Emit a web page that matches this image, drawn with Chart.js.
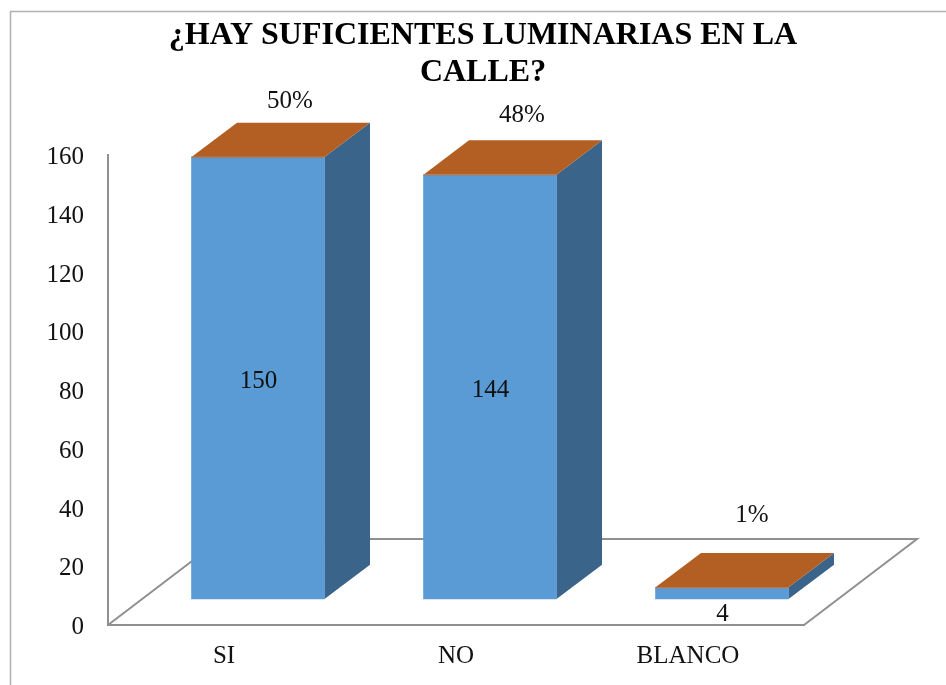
<!DOCTYPE html>
<html>
<head>
<meta charset="utf-8">
<style>html,body{margin:0;padding:0;background:#fff}canvas{display:block}</style>
<script src="https://cdn.jsdelivr.net/npm/chart.js@4"></script>
</head>
<body>
<canvas id="c" width="946" height="685"></canvas>
<script>
const titleLines = ['¿HAY SUFICIENTES LUMINARIAS EN LA', 'CALLE?'];
const categories = ['SI', 'NO', 'BLANCO'];
const counts = [150, 144, 4];
const percents = ['50%', '48%', '1%'];
const yTicks = [0, 20, 40, 60, 80, 100, 120, 140, 160];

const FONT = '"Liberation Serif", "Times New Roman", serif';
const AXIS = '#909090', FRONT = '#5B9BD5', SIDE = '#3A6489', TOP = '#B35E22', EDGE = '#CE702E';
const BAR_DEPTH = {x: 45.5, y: -34.3};
const FLOOR_DEPTH = {x: 113, y: -86};
const pctOffset = [{x: 32, y: -56}, {x: 32, y: -59}, {x: 30, y: -72}];

function poly(ctx, pts, fill) {
  ctx.beginPath();
  pts.forEach((p, i) => i ? ctx.lineTo(p[0], p[1]) : ctx.moveTo(p[0], p[1]));
  ctx.closePath();
  ctx.fillStyle = fill;
  ctx.fill();
}

const frame = {
  id: 'frame',
  beforeDraw(chart) {
    const c = chart.ctx;
    c.save();
    c.strokeStyle = '#B0B0B0';
    c.lineWidth = 1.5;
    c.beginPath();
    c.moveTo(10.5, 685);
    c.lineTo(10.5, 11.5);
    c.lineTo(946, 11.5);
    c.stroke();
    c.restore();
  }
};

const solid = {
  id: 'solid',
  beforeDatasetsDraw(chart) {
    const c = chart.ctx, a = chart.chartArea;
    c.save();
    c.strokeStyle = AXIS;
    c.lineWidth = 2;
    c.lineJoin = 'miter';
    c.beginPath();
    c.moveTo(a.left, a.bottom);
    c.lineTo(a.left + FLOOR_DEPTH.x, a.bottom + FLOOR_DEPTH.y);
    c.lineTo(a.right + FLOOR_DEPTH.x, a.bottom + FLOOR_DEPTH.y);
    c.lineTo(a.right, a.bottom);
    c.stroke();
    chart.getDatasetMeta(0).data.forEach(b => {
      const l = b.x - b.width / 2, r = b.x + b.width / 2;
      const dx = BAR_DEPTH.x, dy = BAR_DEPTH.y;
      poly(c, [[r, b.y], [r + dx, b.y + dy], [r + dx, b.base + dy], [r, b.base]], SIDE);
      poly(c, [[l, b.y], [l + dx, b.y + dy], [r + dx, b.y + dy], [r, b.y]], TOP);
    });
    c.restore();
  },
  afterDatasetsDraw(chart) {
    const c = chart.ctx;
    c.save();
    c.font = '25px ' + FONT;
    c.textAlign = 'center';
    c.textBaseline = 'middle';
    chart.getDatasetMeta(0).data.forEach((b, i) => {
      const l = b.x - b.width / 2, r = b.x + b.width / 2;
      c.strokeStyle = EDGE;
      c.lineWidth = 1;
      c.beginPath();
      c.moveTo(l, b.y + 0.5);
      c.lineTo(r, b.y + 0.5);
      c.stroke();
      const h = b.base - b.y;
      c.fillStyle = '#111';
      c.fillText(String(counts[i]), b.x + 0.5, h > 30 ? b.y + h / 2 + 3.5 : b.base + 15);
      c.fillText(percents[i], b.x + pctOffset[i].x, b.y + pctOffset[i].y);
    });
    c.restore();
  }
};

new Chart(document.getElementById('c'), {
  type: 'bar',
  data: {
    labels: categories,
    datasets: [{
      label: 'Respuestas',
      data: counts.map((v, i) => ({x: i, y: v})),
      xAxisID: 'xb',
      yAxisID: 'yb',
      backgroundColor: FRONT,
      borderWidth: 0,
      barThickness: 133
    }]
  },
  plugins: [frame, solid],
  options: {
    responsive: false,
    animation: false,
    layout: {padding: {left: 20, right: 0, top: 0, bottom: 0}},
    plugins: {
      legend: {display: false},
      tooltip: {enabled: false},
      title: {
        display: true,
        text: titleLines,
        color: '#000',
        font: {family: FONT, size: 32, weight: 'bold', lineHeight: 1.16},
        padding: {top: 17, bottom: 63.7}
      }
    },
    scales: {
      x: {
        type: 'category',
        position: 'bottom',
        offset: true,
        grid: {display: false},
        border: {display: true, color: AXIS, width: 2},
        ticks: {color: '#111', font: {family: FONT, size: 25}, padding: 8, maxRotation: 0, autoSkip: false},
        afterFit(s) { s.height = 60; }
      },
      y: {
        type: 'linear',
        position: 'left',
        min: yTicks[0],
        max: yTicks[yTicks.length - 1],
        afterBuildTicks(s) { s.ticks = yTicks.map(v => ({value: v})); },
        grid: {display: false},
        border: {display: true, color: AXIS, width: 2},
        ticks: {
          color: '#111',
          font: {family: FONT, size: 25, lineHeight: 0.2},
          padding: 16,
          callback: v => ['', String(v)]
        },
        afterFit(s) { s.width = 88; }
      },
      xb: {type: 'linear', position: 'bottom', display: false, offset: false, min: -0.6466, max: 2.3534},
      yb: {
        type: 'linear',
        position: 'right',
        min: -8.82,
        max: 150.68,
        grid: {display: false},
        border: {display: false},
        ticks: {display: false},
        afterFit(s) { s.width = 142; }
      }
    }
  }
});
</script>
</body>
</html>
